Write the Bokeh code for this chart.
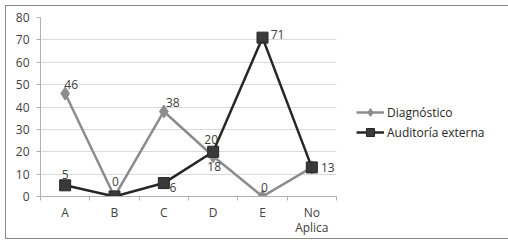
from bokeh.plotting import figure
from bokeh.models import (ColumnDataSource, FixedTicker, Legend, LegendItem,
                          LabelSet, Range1d)
from bokeh.core.properties import value
from bokeh.embed import file_html
from bokeh.resources import INLINE

# ---- data ----
categories = ["A", "B", "C", "D", "E", "No\nAplica"]
diagnostico = [46, 0, 38, 18, 0, 13]
auditoria = [5, 0, 6, 20, 71, 13]
y_ticks = [0, 10, 20, 30, 40, 50, 60, 70, 80]

# label offsets (screen px, style only)
diag_dx = [6, 1, 9, 1, 2, 16]
diag_dy = [9, 15, 9, -10, 9, 0]
aud_dx = [0, 1, 9, -2, 15, 16]
aud_dy = [11, 15, -4, 12, 3, 0]

FONT = "Open Sans"
TXT = "#404040"

xs = [i + 0.5 for i in range(len(categories))]

p = figure(frame_width=296, frame_height=179, output_backend="svg", toolbar_location=None,
           x_range=Range1d(0, len(categories)), y_range=Range1d(0, 80),
           min_border_left=34, min_border_right=162, min_border_top=11,
           min_border_bottom=39)
p.styles = {"border": "1px solid #8a8a8a", "margin-left": "5px", "margin-top": "5px"}
p.outline_line_color = None
p.background_fill_color = "white"
p.border_fill_color = "white"

# grid
p.xgrid.grid_line_color = None
p.ygrid.ticker = FixedTicker(ticks=y_ticks)
p.ygrid.grid_line_color = "#d9d9d9"
p.ygrid.grid_line_width = 1

# y axis
p.yaxis.ticker = FixedTicker(ticks=y_ticks)
p.yaxis.axis_line_color = "#b0b0b0"
p.yaxis.major_tick_line_color = "#b0b0b0"
p.yaxis.major_tick_out = 4
p.yaxis.major_tick_in = 0
p.yaxis.minor_tick_line_color = None
p.yaxis.major_label_text_font = FONT
p.yaxis.major_label_text_font_size = "12px"
p.yaxis.major_label_text_color = TXT
p.yaxis.major_label_standoff = 7

# x axis
p.xaxis.ticker = FixedTicker(ticks=xs, minor_ticks=list(range(len(categories) + 1)))
p.xaxis.major_label_overrides = {x: c for x, c in zip(xs, categories)}
p.xaxis.axis_line_color = "#b0b0b0"
p.xaxis.major_tick_line_color = None
p.xaxis.major_tick_out = 4
p.xaxis.major_tick_in = 0
p.xaxis.minor_tick_line_color = "#b0b0b0"
p.xaxis.minor_tick_out = 4
p.xaxis.minor_tick_in = 0
p.xaxis.major_label_text_font = FONT
p.xaxis.major_label_text_font_size = "12px"
p.xaxis.major_label_text_color = TXT
p.xaxis.major_label_text_line_height = 0.9
p.xaxis.major_label_standoff = 3

# labels: where both series coincide only one label is shown
diag_labels = [str(d) if d != a else "" for d, a in zip(diagnostico, auditoria)]
src = ColumnDataSource(dict(x=xs, d=diagnostico, a=auditoria,
                            dl=diag_labels,
                            al=[str(v) for v in auditoria],
                            ddx=diag_dx, ddy=diag_dy, adx=aud_dx, ady=aud_dy))
# source with one undrawable (NaN) row, used only for the legend keys
key_src = ColumnDataSource(dict(x=[float("nan")], y=[float("nan")]))

c_d = "#8c8c8c"
c_a = "#262626"
l1 = p.line("x", "d", source=src, line_color=c_d, line_width=2.5)
p.scatter("x", "d", source=src, marker="diamond", size=13,
          fill_color=c_d, line_color=c_d)
l2 = p.line("x", "a", source=src, line_color=c_a, line_width=2.5)
p.scatter("x", "a", source=src, marker="square", size=11,
          fill_color="#3a3a3a", line_color=c_a)
k1 = p.scatter("x", "y", source=key_src, marker="diamond", size=8,
               fill_color=c_d, line_color=c_d)
k2 = p.scatter("x", "y", source=key_src, marker="square", size=8,
               fill_color="#3a3a3a", line_color=c_a)

for ycol, lcol, dxc, dyc in (("d", "dl", "ddx", "ddy"), ("a", "al", "adx", "ady")):
    ls = LabelSet(x="x", y=ycol, text=lcol, source=src, x_offset=dxc, y_offset=dyc,
                  text_align="center", text_baseline="middle",
                  text_font=value(FONT), text_font_size=value("12px"),
                  text_color=value(TXT))
    p.add_layout(ls)

legend = Legend(items=[LegendItem(label="Diagnóstico", renderers=[l1, k1]),
                       LegendItem(label="Auditoría externa", renderers=[l2, k2])],
                location=(20, 54), margin=0, padding=5, spacing=0,
                glyph_width=28, glyph_height=20, label_height=20,
                label_standoff=3, border_line_color=None,
                background_fill_alpha=0,
                label_text_font=FONT, label_text_font_size="12px",
                label_text_color="#262626")
p.add_layout(legend, "right")

open("out.html", "w").write(file_html(p, INLINE))
